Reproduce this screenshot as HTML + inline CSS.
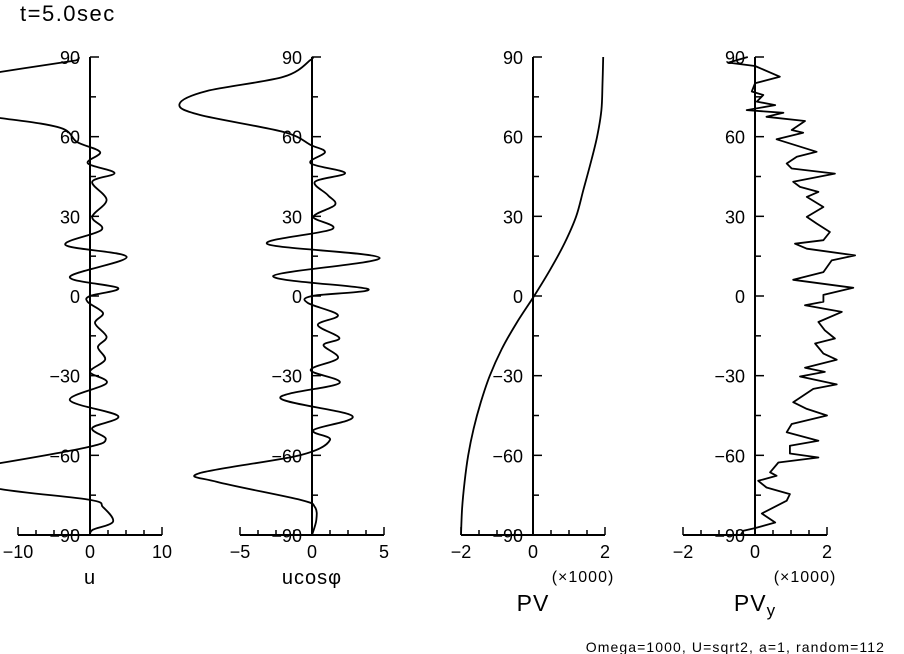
<!DOCTYPE html>
<html><head><meta charset="utf-8">
<style>
html,body{margin:0;padding:0;background:#fff;}
svg{display:block;font-family:"Liberation Sans",sans-serif;}
</style></head>
<body>
<svg id="chart" width="904" height="654" viewBox="0 0 904 654" xmlns="http://www.w3.org/2000/svg">
<text x="20" y="21" font-size="22" letter-spacing="1.5">t=5.0sec</text>
<text x="885" y="652" font-size="14" letter-spacing="1.1" text-anchor="end">Omega=1000, U=sqrt2, a=1, random=112</text>
<g id="plots"></g>
</svg>
<script>
// latitude ticks
const yTicks = [90, 75, 60, 45, 30, 15, 0, -15, -30, -45, -60, -75, -90];
const yLabels = ["90", "60", "30", "0", "-30", "-60", "-90"];
// u panel data
const uLat = [90, 88.9, 88.1, 84.4, 80, 76, 72, 67, 63.3, 58, 54.2, 50, 46.3, 43, 36.2, 29.8, 24.9, 19.2, 14.7, 7.2, 3, 0, -2.3, -6.4, -10.2, -15.4, -19.2, -24, -28.6, -32.8, -39.2, -45.2, -49.7, -53.9, -56.9, -62.9, -67, -72.7, -76.8, -79.5, -85, -88, -90];
const uVal = [-1.5, -1.8, -3.4, -12.4, -22, -28, -28, -12.4, -4.1, -1.8, 1.4, -0.3, 3.4, 0.3, 2.3, 0.3, 1.6, -3.4, 5.1, -2.8, 3.9, 0, -0.3, 1.8, 0.7, 2.3, 1.1, 2.1, 0, 2.3, -2.8, 3.9, 0.3, 2.2, -0.3, -12.4, -22, -12.4, 0, 1.8, 3.2, 0.4, 0];
// u cos(phi) panel data
const ucLat = [90, 88.9, 82.5, 77.2, 72.3, 68.2, 61.8, 56.9, 54.2, 50, 46.3, 43, 38, 34.3, 29.8, 25.2, 19.6, 14.3, 7.5, 2.6, 0, -2.6, -7.2, -10.9, -15.8, -18.5, -23.4, -27.9, -32.8, -38.4, -45.2, -50.5, -54.2, -59.9, -66.7, -70, -76.8, -79.5, -84.4, -90];
const ucVal = [0, -0.1, -2.0, -7.3, -9.2, -7.8, -2.0, -0.1, 0.9, -0.1, 2.3, 0.2, 1.1, 1.6, 0.1, 1.4, -3.1, 4.7, -2.7, 3.9, 0, -0.3, 1.8, 0.4, 1.9, 0.8, 1.8, -0.1, 1.9, -2.2, 2.8, 0.1, 1.25, -0.8, -7.8, -6.6, -0.8, 0.2, 0.3, 0];
// PV panel data (x1000)
const pvLat = [90, 80, 70, 60, 50, 40, 30, 20, 10, 0, -10, -20, -30, -40, -50, -60, -70, -80, -90];
const pvVal = [1.95, 1.93, 1.9, 1.78, 1.6, 1.4, 1.2, 0.88, 0.48, 0.03, -0.45, -0.87, -1.2, -1.45, -1.65, -1.8, -1.9, -1.97, -2.0];
// PV_y panel data (x1000)
const pvyLat = [90, 87.9, 86.6, 82.6, 80.1, 77, 75.7, 73.2, 71.9, 70, 69, 67.5, 65.9, 62.5, 61.5, 59, 54.3, 52.4, 49.9, 48, 46.1, 43, 41.1, 39.2, 37.3, 33.5, 29.8, 27.3, 24.1, 21, 19.7, 17.8, 15.3, 13.4, 9, 6.1, 3.1, 0.4, -2.2, -3.5, -6, -9.8, -12.9, -16, -17.9, -21.7, -24, -27, -28.6, -30.3, -33.3, -35, -40, -42.5, -45, -48.2, -51.3, -54.5, -56.4, -59.3, -60.8, -62.7, -66.4, -67.7, -69.6, -72.1, -74.6, -77.1, -81.9, -85.3, -87.4, -88.4, -90];
const pvyVal = [-0.2, -0.74, 0, 0.69, 0, -0.09, 0.23, 0.05, 0.56, -0.23, 0.79, 0.32, 1.39, 1.02, 1.34, 0.6, 1.71, 1.16, 0.88, 1.02, 2.22, 1.06, 1.25, 1.76, 1.44, 1.9, 1.44, 1.71, 2.08, 1.9, 1.11, 1.44, 2.78, 2.13, 1.9, 1.06, 2.73, 1.9, 1.9, 1.39, 2.41, 1.76, 1.94, 2.22, 1.67, 1.9, 2.27, 1.39, 1.94, 1.25, 2.27, 1.62, 1.06, 1.44, 2.0, 1.02, 0.88, 1.76, 0.97, 0.97, 1.76, 0.65, 0.42, 0.6, 0.09, 0.32, 0.97, 0.88, 0.19, 0.56, 0, -0.32, -0.4];

const NS = "http://www.w3.org/2000/svg";
const root = document.getElementById("plots");
const yTop = 57, yBot = 535;
function yScale(lat){ return yTop + (90 - lat) / 180 * (yBot - yTop); }
function mk(tag, attrs, parent){ const e = document.createElementNS(NS, tag); for (const k in attrs) e.setAttribute(k, attrs[k]); parent.appendChild(e); return e; }

const panels = [
  {key:"u", ax:90, min:-10, max:10, step:2.5, ticks:["-10","0","10"], lat:uLat, val:uVal, smooth:true, title:"u", ty:584, tsize:20, mult:false},
  {key:"ucos", ax:312, min:-5, max:5, step:1.25, ticks:["-5","0","5"], lat:ucLat, val:ucVal, smooth:true, title:"ucos\u03C6", ty:584, tsize:20, mult:false},
  {key:"pv", ax:533, min:-2, max:2, step:0.5, ticks:["-2","0","2"], lat:pvLat, val:pvVal, smooth:true, title:"PV", ty:611, tsize:23, mult:true},
  {key:"pvy", ax:755, min:-2, max:2, step:0.5, ticks:["-2","0","2"], lat:pvyLat, val:pvyVal, smooth:false, title:"PV", ty:611, tsize:23, mult:true, sub:"y"}
];
const halfW = 72;

panels.forEach(p => {
  const g = mk("g", {}, root);
  
  
  const xScale = v => p.ax + v / p.max * halfW;
  const ya = mk("line", {x1:p.ax, y1:yTop, x2:p.ax, y2:yBot, stroke:"#000", "stroke-width":2}, g);
  
  
  yTicks.forEach(t => {
    const major = (t % 30 === 0);
    const tk = mk("line", {x1:p.ax, y1:yScale(t), x2:p.ax + (major ? 9 : 6), y2:yScale(t), stroke:"#000", "stroke-width":1.5}, g);
    
    
  });
  yLabels.forEach(l => {
    const v = parseFloat(l);
    const tx = mk("text", {x:p.ax - 10, y:yScale(v) + 7, "font-size":18, "text-anchor":"end"}, g);
    tx.textContent = l.replace("-", "\u2212");
    
    
  });
  const xa = mk("line", {x1:xScale(p.min), y1:yBot, x2:xScale(p.max), y2:yBot, stroke:"#000", "stroke-width":2}, g);
  
  
  for (let v = p.min; v <= p.max + 1e-9; v += p.step) {
    const major = Math.abs(v) < 1e-9 || Math.abs(Math.abs(v) - p.max) < 1e-9;
    const tk = mk("line", {x1:xScale(v), y1:yBot, x2:xScale(v), y2:yBot - (major ? 8 : 5), stroke:"#000", "stroke-width":1.5}, g);
    
    
  }
  p.ticks.forEach(l => {
    const tx = mk("text", {x:xScale(parseFloat(l)), y:558, "font-size":18, "text-anchor":"middle"}, g);
    tx.textContent = l.replace("-", "\u2212");
    
    
  });
  if (p.mult) {
    const m = mk("text", {x:p.ax + 50, y:582, "font-size":16, "letter-spacing":1, "text-anchor":"middle"}, g);
    m.textContent = "(\u00D71000)";
    
    
  }
  const tt = mk("text", {x:p.ax, y:p.ty, "font-size":p.tsize, "letter-spacing":1, "text-anchor":"middle"}, g);
  tt.textContent = p.title;
  if (p.sub) { const s = mk("tspan", {"font-size":17, dy:5}, tt); s.textContent = p.sub; }
  
  
  const pts = p.lat.map((la, i) => [xScale(p.val[i]), yScale(la)]);
  let d = "M" + pts[0][0].toFixed(1) + "," + pts[0][1].toFixed(1);
  if (p.smooth) {
    for (let i = 0; i < pts.length - 1; i++) {
      const p0 = pts[Math.max(0, i - 1)], p1 = pts[i], p2 = pts[i + 1], p3 = pts[Math.min(pts.length - 1, i + 2)];
      const c1 = [p1[0] + (p2[0] - p0[0]) / 6, p1[1] + (p2[1] - p0[1]) / 6];
      const c2 = [p2[0] - (p3[0] - p1[0]) / 6, p2[1] - (p3[1] - p1[1]) / 6];
      d += " C" + c1[0].toFixed(1) + "," + c1[1].toFixed(1) + " " + c2[0].toFixed(1) + "," + c2[1].toFixed(1) + " " + p2[0].toFixed(1) + "," + p2[1].toFixed(1);
    }
  } else {
    for (let i = 1; i < pts.length; i++) d += " L" + pts[i][0].toFixed(1) + "," + pts[i][1].toFixed(1);
  }
  const path = mk("path", {d:d, fill:"none", stroke:"#000", "stroke-width":1.8, "stroke-linejoin":"round"}, g);
  
  
});
</script>
</body></html>
